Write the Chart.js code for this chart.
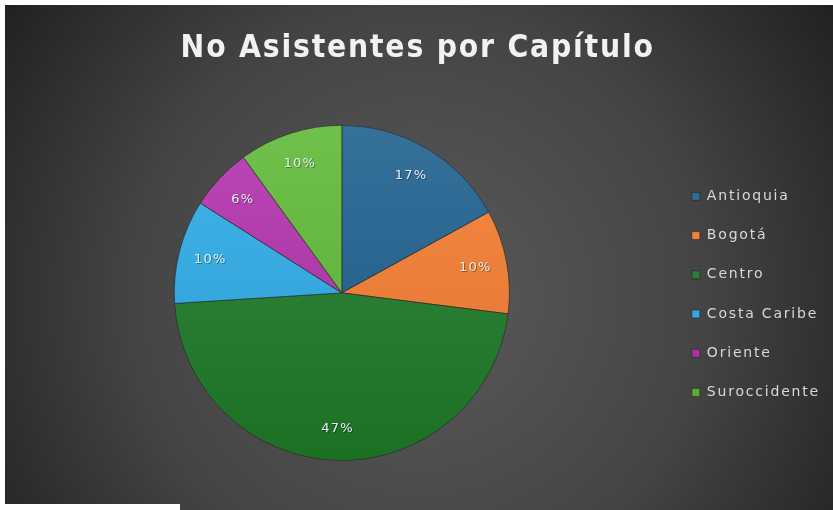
<!DOCTYPE html>
<html>
<head>
<meta charset="utf-8">
<script src="https://cdn.jsdelivr.net/npm/chart.js@4/dist/chart.umd.min.js"></script>
<style>
  html, body { margin: 0; padding: 0; background: #ffffff; }
  #wrap { position: absolute; left: 5px; top: 5px; width: 828px; height: 505px; }
  #strip { position: absolute; left: 0; top: 504px; width: 180px; height: 6px; background: #ffffff; }
</style>
</head>
<body>
<div id="wrap"><canvas id="chart" width="828" height="505"></canvas></div>
<div id="strip"></div>
<script>
(function () {
    "use strict";

    const TITLE = "No Asistentes por Capítulo ";
    const labels = ["Antioquia", "Bogotá", "Centro", "Costa Caribe", "Oriente", "Suroccidente"];
    const values = [17, 10, 47, 10, 6, 10];
    const colors = ["#1b5e8c", "#f47b2e", "#1d7a27", "#2aaae6", "#b12fab", "#5cb934"];

    const SPACING = "1.8px";

    // background: dark radial shading like the office theme
    const bgPlugin = {
        id: "bg",
        beforeUpdate(chart) { chart.ctx.letterSpacing = SPACING; },
        beforeDraw(chart) {
            const ctx = chart.ctx;
            ctx.letterSpacing = SPACING;
            const w = chart.width, h = chart.height;
            const g = ctx.createRadialGradient(w * 0.5, h * 0.58, 10, w * 0.5, h * 0.58, w * 0.62);
            g.addColorStop(0, "#5a5a5a");
            g.addColorStop(0.55, "#444444");
            g.addColorStop(1, "#202020");
            ctx.save();
            ctx.fillStyle = g;
            ctx.fillRect(0, 0, w, h);
            ctx.restore();
        }
    };

    // percentage labels inside the slices
    const pctPlugin = {
        id: "pct",
        afterDatasetsDraw(chart) {
            const ctx = chart.ctx;
            const meta = chart.getDatasetMeta(0);
            const total = values.reduce((a, b) => a + b, 0);
            ctx.save();
            ctx.letterSpacing = "1.2px";
            ctx.font = "13px 'DejaVu Sans', sans-serif";
            ctx.textAlign = "center";
            ctx.textBaseline = "middle";
            meta.data.forEach((arc, i) => {
                const p = arc.getProps(["x", "y", "startAngle", "endAngle", "outerRadius"], true);
                const mid = (p.startAngle + p.endAngle) / 2;
                const r = p.outerRadius * 0.81;
                const x = p.x + Math.cos(mid) * r;
                const y = p.y + Math.sin(mid) * r;
                const txt = Math.round(values[i] / total * 100) + "%";
                ctx.fillStyle = "rgba(0,0,0,0.35)";
                ctx.fillText(txt, x + 1, y + 1);
                ctx.fillStyle = "#e6eef2";
                ctx.fillText(txt, x, y);
            });
            ctx.restore();
        }
    };

    function shade(hex, amt) {
        const n = parseInt(hex.slice(1), 16);
        const r = (n >> 16) & 255, g = (n >> 8) & 255, b = n & 255;
        const f = v => Math.max(0, Math.min(255, Math.round(amt > 0 ? v + (255 - v) * amt : v * (1 + amt))));
        return `rgb(${f(r)},${f(g)},${f(b)})`;
    }

    function sliceFill(c) {
        const chart = c.chart;
        const area = chart.chartArea;
        const base = colors[c.dataIndex];
        if (!area) return base;
        const g = chart.ctx.createLinearGradient(0, area.top, 0, area.bottom);
        g.addColorStop(0, shade(base, 0.12));
        g.addColorStop(1, shade(base, -0.08));
        return g;
    }

    const ctx = document.getElementById("chart").getContext("2d");
    new Chart(ctx, {
        type: "pie",
        data: {
            labels,
            datasets: [{
                data: values,
                backgroundColor: sliceFill,
                borderColor: "rgba(35,35,35,0.6)",
                borderWidth: 1
            }]
        },
        options: {
            responsive: false,
            animation: false,
            layout: { padding: { left: 12, right: 3, top: 0, bottom: 49 } },
            plugins: {
                title: {
                    display: true,
                    text: TITLE,
                    color: "#f2f2f2",
                    font: { family: "'DejaVu Sans Condensed', 'DejaVu Sans', sans-serif", size: 31.5, weight: "bold condensed" },
                    padding: { top: 25, bottom: 57 }
                },
                legend: {
                    position: "right",
                    align: "start",
                    title: {
                        display: true,
                        text: " ",
                        font: { size: 1 },
                        padding: { top: 0, bottom: 158 }
                    },
                    labels: {
                        color: "#d9d9d9",
                        boxWidth: 8,
                        boxHeight: 8,
                        padding: 25.2,
                        font: { family: "'DejaVu Sans', sans-serif", size: 14 }
                    }
                },
                tooltip: { enabled: false }
            }
        },
        plugins: [bgPlugin, pctPlugin]
    });
})();
</script>
</body>
</html>
